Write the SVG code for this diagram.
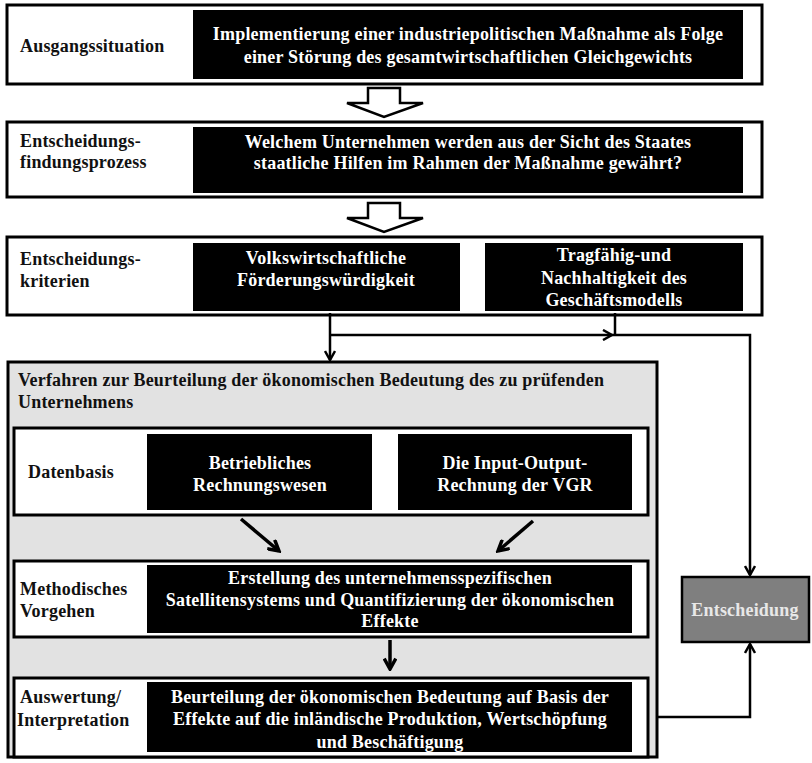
<svg xmlns="http://www.w3.org/2000/svg" width="812" height="763" viewBox="0 0 812 763">
<defs>
<style>
text{font-weight:bold;font-size:18px;letter-spacing:0.2px}
.lbl{fill:#111}
.wt{fill:#fff;text-anchor:middle}
.outer{fill:#fff;stroke:#000;stroke-width:3}
.blk{fill:#000}
.conn{fill:none;stroke:#000;stroke-width:2.5}
.thick{fill:none;stroke:#000;stroke-width:3.5}
.hollow{fill:#fff;stroke:#000;stroke-width:2.5;stroke-linejoin:miter}
</style>
<marker id="ah" viewBox="0 0 12 12" refX="10" refY="6" markerWidth="12" markerHeight="12" markerUnits="userSpaceOnUse" orient="auto">
<path d="M1,1 L10,6 L1,11" fill="none" stroke="#000" stroke-width="2.5"/>
</marker>
<marker id="ah2" viewBox="0 0 12 12" refX="10" refY="6" markerWidth="14" markerHeight="14" markerUnits="userSpaceOnUse" orient="auto">
<path d="M1,1 L10,6 L1,11" fill="none" stroke="#000" stroke-width="3"/>
</marker>
</defs>
<rect width="812" height="763" fill="#fff"/>
<g font-family="Liberation Serif, DejaVu Serif, serif">
<g id="ausgangssituation">
<rect class="outer" x="7" y="5" width="755" height="79"/>
<rect class="blk" x="193" y="10" width="550" height="69"/>
<text class="lbl" x="20" y="52">Ausgangssituation</text>
<text class="wt" x="468" y="40">Implementierung einer industriepolitischen Maßnahme als Folge</text>
<text class="wt" x="468" y="63">einer Störung des gesamtwirtschaftlichen Gleichgewichts</text>
</g>

<g id="arrow1">
<path class="hollow" d="M368,88 L400,88 L400,103 L423,103 L384,117 L347,103 L368,103 Z"/>
</g>

<g id="entscheidungsfindung">
<rect class="outer" x="7" y="122" width="755" height="75"/>
<rect class="blk" x="193" y="127" width="550" height="66"/>
<text class="lbl" x="20" y="147">Entscheidungs-</text>
<text class="lbl" x="20" y="168">findungsprozess</text>
<text class="wt" x="468" y="148">Welchem Unternehmen werden aus der Sicht des Staates</text>
<text class="wt" x="468" y="169">staatliche Hilfen im Rahmen der Maßnahme gewährt?</text>
</g>

<g id="arrow2">
<path class="hollow" d="M368,203 L400,203 L400,218 L423,218 L384,232 L347,218 L368,218 Z"/>
</g>

<g id="entscheidungskriterien">
<rect class="outer" x="7" y="237" width="755" height="78"/>
<text class="lbl" x="20" y="265">Entscheidungs-</text>
<text class="lbl" x="20" y="287">kriterien</text>
</g>
<g id="volkswirtschaftliche">
<rect class="blk" x="193" y="243" width="267" height="68"/>
<text class="wt" x="326" y="264">Volkswirtschaftliche</text>
<text class="wt" x="326" y="286">Förderungswürdigkeit</text>
</g>
<g id="tragfaehigkeit">
<rect class="blk" x="485" y="243" width="258" height="68"/>
<text class="wt" x="614" y="261">Tragfähig-und</text>
<text class="wt" x="614" y="284">Nachhaltigkeit des</text>
<text class="wt" x="614" y="306">Geschäftsmodells</text>
</g>

<g id="verfahren">
<rect x="8" y="362" width="649" height="395" fill="#e2e2e2" stroke="#000" stroke-width="3"/>
<text class="lbl" x="18" y="386">Verfahren zur Beurteilung der ökonomischen Bedeutung des zu prüfenden</text>
<text class="lbl" x="18" y="408">Unternehmens</text>
</g>

<g id="datenbasis">
<rect class="outer" x="14" y="428" width="634" height="87"/>
<text class="lbl" x="28" y="478">Datenbasis</text>
</g>
<g id="betriebliches">
<rect class="blk" x="147" y="434" width="225" height="76"/>
<text class="wt" x="260" y="469">Betriebliches</text>
<text class="wt" x="260" y="491">Rechnungswesen</text>
</g>
<g id="inputoutput">
<rect class="blk" x="398" y="434" width="234" height="76"/>
<text class="wt" x="515" y="469">Die Input-Output-</text>
<text class="wt" x="515" y="491">Rechnung der VGR</text>
</g>

<g id="methodisches">
<rect class="outer" x="14" y="561" width="634" height="76"/>
<rect class="blk" x="147" y="565" width="485" height="68"/>
<text class="lbl" x="20" y="595">Methodisches</text>
<text class="lbl" x="20" y="617">Vorgehen</text>
<text class="wt" x="390" y="584">Erstellung des unternehmensspezifischen</text>
<text class="wt" x="390" y="606">Satellitensystems und Quantifizierung der ökonomischen</text>
<text class="wt" x="390" y="627">Effekte</text>
</g>

<g id="auswertung">
<rect class="outer" x="14" y="678" width="634" height="79"/>
<rect class="blk" x="147" y="682" width="485" height="70"/>
<text class="lbl" x="20" y="703">Auswertung/</text>
<text class="lbl" x="17" y="726">Interpretation</text>
<text class="wt" x="390" y="703">Beurteilung der ökonomischen Bedeutung auf Basis der</text>
<text class="wt" x="390" y="725">Effekte auf die inländische Produktion, Wertschöpfung</text>
<text class="wt" x="390" y="748">und Beschäftigung</text>
</g>

<g id="entscheidung">
<rect x="682" y="577" width="127" height="65" fill="#7f7f7f" stroke="#000" stroke-width="2.5"/>
<text x="745" y="616" style="fill:#e8e8e8;text-anchor:middle">Entscheidung</text>
</g>
</g>
<g id="connectors">
<path class="conn" d="M330,313 L330,360" marker-end="url(#ah)"/>
<path class="conn" d="M330,335 L612,335" marker-end="url(#ah)"/>
<path class="conn" d="M612,335 L750,335 L750,575" marker-end="url(#ah)"/>
<path class="conn" d="M615,313 L615,335"/>
<path class="conn" d="M657,717 L750,717 L750,644" marker-end="url(#ah)"/>
<path class="thick" d="M241,519 L279,551" marker-end="url(#ah2)"/>
<path class="thick" d="M533,521 L498,551" marker-end="url(#ah2)"/>
<path class="thick" d="M390,640 L390,669" marker-end="url(#ah2)"/>
</g>
</svg>
